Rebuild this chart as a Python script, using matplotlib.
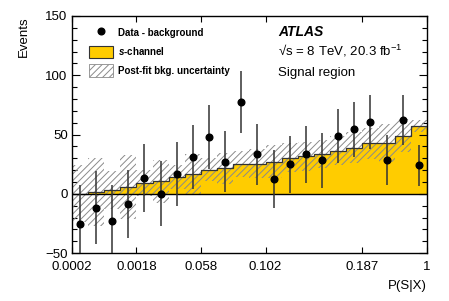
import numpy as np
import matplotlib
matplotlib.use("Agg")
import matplotlib.pyplot as plt
from matplotlib.patches import Patch
from matplotlib.lines import Line2D
from matplotlib.ticker import MultipleLocator

plt.rcParams['font.family'] = ['Liberation Sans', 'DejaVu Sans']
plt.rcParams['mathtext.fontset'] = 'custom'
plt.rcParams['mathtext.rm'] = 'Liberation Sans'
plt.rcParams['mathtext.it'] = 'Liberation Sans:italic:bold'
plt.rcParams['hatch.linewidth'] = 0.7

# Données (22 bins en P(S|X))
data_sub = [-25.5, -11.7, -22.6, -8.6, 13.3, 0.2, 16.5, 31.0, 47.7, 27.2, 77.2,
            33.3, 12.5, 24.9, 33.3, 28.3, 48.8, 54.4, 60.6, 28.3, 62.6, 24.0]
data_err = [33, 31, 30, 29, 28.5, 27.5, 27, 27, 27, 26, 26,
            26, 24.5, 24, 24, 23, 23, 23, 22.5, 21, 21, 17]
s_channel = [0, 1.5, 3.5, 5.5, 9, 10.5, 14, 16.5, 20.5, 21.5, 25,
             25.5, 27, 30.5, 31.5, 33.5, 36.5, 39, 42.5, 42.5, 49, 57.5]
bkg_unc = [24, 29, 16, 27, 11, 18, 10, 17, 10, 13, 11,
           12, 14, 12, 12, 12, 12, 13, 13, 16, 14, 5]
tick_pos = [0, 4, 8, 12, 18, 22]
tick_lab = ["0.0002", "0.0018", "0.058", "0.102", "0.187", "1"]

nbins = len(data_sub)
edges = np.arange(nbins + 1)
centers = edges[:-1] + 0.5
sig = np.array(s_channel)
unc = np.array(bkg_unc)

fig = plt.figure(figsize=(4.49, 3.01), dpi=100)
ax = fig.add_axes([0.160, 0.159, 0.791, 0.788])

yellow = '#ffcc00'
hatch_col = '#8a8a8a'
ax.bar(edges[:-1], sig, width=1, align='edge', color=yellow, lw=0, zorder=1)
ax.bar(edges[:-1], 2 * unc, bottom=sig - unc, width=1, align='edge', fill=False,
       hatch='/////', edgecolor=hatch_col, lw=0, zorder=2)
ax.stairs(sig, edges, color='#333333', lw=0.9, zorder=3)
ax.axhline(0, color='black', lw=1.0, zorder=3)

ax.errorbar(centers, data_sub, yerr=data_err, fmt='o', color='black', ms=4.8,
            ecolor='#333333', elinewidth=1.1, capsize=0, zorder=5)

ax.set_xlim(0, nbins)
ax.set_ylim(-50, 150)
ax.set_xticks(tick_pos)
ax.set_xticklabels(tick_lab)
ax.yaxis.set_major_locator(MultipleLocator(50))
ax.yaxis.set_minor_locator(MultipleLocator(10))
ax.tick_params(axis='both', which='both', direction='in', top=True, right=True,
               labelsize=9.5, width=0.8)
ax.tick_params(axis='y', which='major', length=6, pad=3)
ax.tick_params(axis='y', which='minor', length=3.5)
ax.tick_params(axis='x', which='major', length=4.5, pad=6)
for sp in ax.spines.values():
    sp.set_linewidth(1.0)

ax.set_ylabel('Events', fontsize=9.5, loc='top', labelpad=11)
ax.set_xlabel('P(S|X)', fontsize=9.5, loc='right', labelpad=5)

# Légende
handles = [
    Line2D([], [], marker='o', color='black', ls='none', ms=4.8),
    Patch(facecolor=yellow, edgecolor='#333333', lw=0.8),
    Patch(facecolor='white', edgecolor=hatch_col, hatch='/////', lw=0.6),
]
labels = ['Data - background', '$\\it{s}$-channel', 'Post-fit bkg. uncertainty']
ax.legend(handles, labels, loc='upper left', bbox_to_anchor=(0.03, 0.985),
          frameon=False, prop={'weight': 'bold', 'size': 7},
          handlelength=2.45, handleheight=1.65, labelspacing=0.62,
          handletextpad=0.5, borderpad=0.2)

ax.text(0.580, 0.915, 'ATLAS', transform=ax.transAxes, fontsize=10,
        fontweight='bold', fontstyle='italic', va='baseline')
ax.text(0.580, 0.835, '√s = 8 TeV, 20.3 fb$^{-1}$', transform=ax.transAxes,
        fontsize=9.5, va='baseline')
ax.text(0.580, 0.745, 'Signal region', transform=ax.transAxes,
        fontsize=9.5, va='baseline')

fig.savefig('out.png', dpi=100)
